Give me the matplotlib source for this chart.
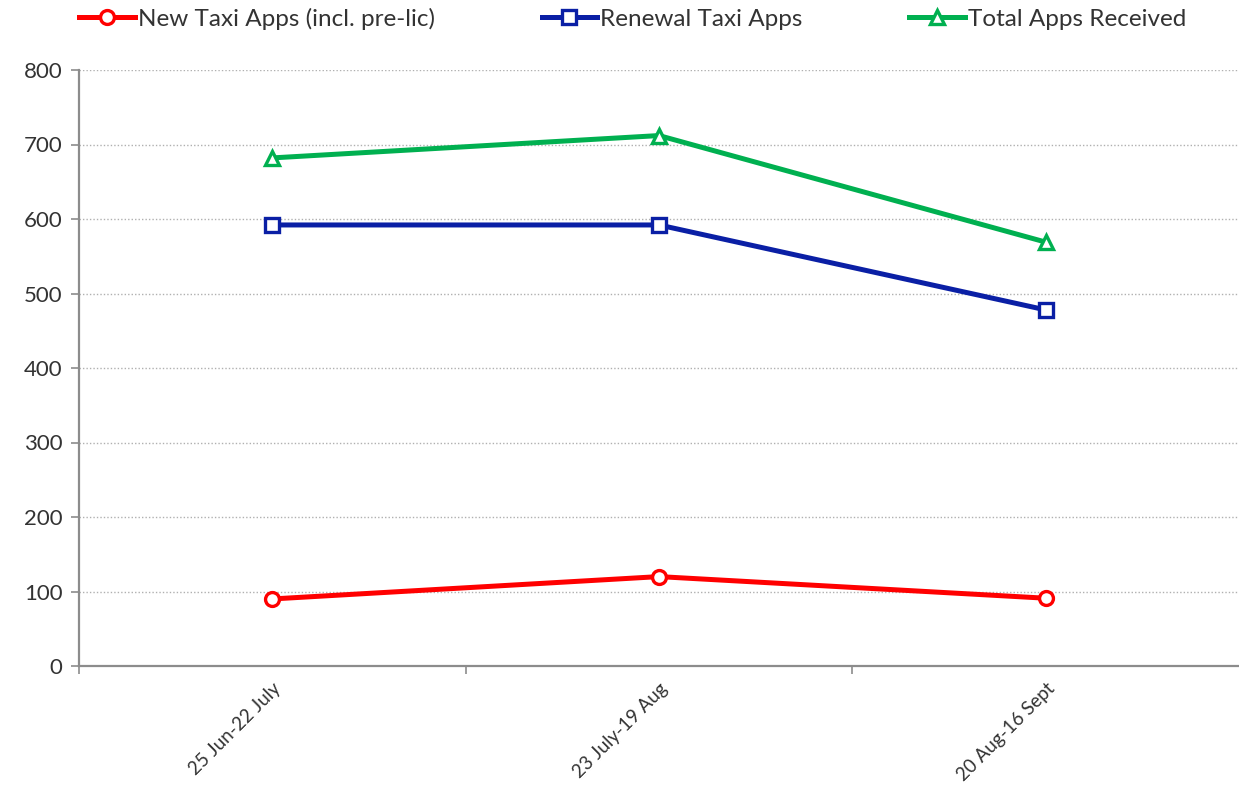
import matplotlib
matplotlib.use("Agg")
import matplotlib.pyplot as plt

categories = ["25 Jun-22 July", "23 July-19 Aug", "20 Aug-16 Sept"]
new_apps = [90, 120, 91]
renewal_apps = [592, 592, 478]
total_apps = [682, 712, 569]
y_ticks = [0, 100, 200, 300, 400, 500, 600, 700, 800]

plt.rcParams['font.family'] = ['Lato', 'DejaVu Sans']

fig = plt.figure(figsize=(12.39, 7.88), dpi=100)
ax = fig.add_axes([79/1239, 1 - 666/788, 1160/1239, (666 - 70)/788])

x = list(range(len(categories)))
series = [
    ("New Taxi Apps (incl. pre-lic)", new_apps, "#FF0000", "o"),
    ("Renewal Taxi Apps", renewal_apps, "#0A1FA5", "s"),
    ("Total Apps Received", total_apps, "#00B050", "^"),
]
for label, vals, col, mk in series:
    ax.plot(x, vals, color=col, lw=3.6, marker=mk, markersize=10,
            markerfacecolor="white", markeredgecolor=col, markeredgewidth=2.4,
            label=label, zorder=3, clip_on=False)

ax.set_xlim(-0.5, 2.5)
ax.set_ylim(0, 800)
ax.set_yticks(y_ticks)
ax.set_xticks([-0.5, 0.5, 1.5], minor=False)
ax.set_xticklabels([])
ax.set_xticks(x, minor=True)
ax.set_xticklabels(categories, minor=True, rotation=45, ha="right",
                   rotation_mode="anchor", fontsize=13.5, color="#333333")
ax.tick_params(axis="x", which="major", length=6, color="#8c8c8c", width=1.2)
ax.tick_params(axis="x", which="minor", length=0, pad=10)
ax.tick_params(axis="y", length=6, color="#8c8c8c", width=1.2, labelsize=16,
               labelcolor="#333333", pad=6)

ax.grid(axis="y", color="#b0b0b0", linestyle=(0, (1, 1.5)), lw=1.0, zorder=0)
for s in ["top", "right"]:
    ax.spines[s].set_visible(False)
for s in ["left", "bottom"]:
    ax.spines[s].set_color("#8c8c8c")
    ax.spines[s].set_linewidth(1.6)

leg = fig.legend(loc="upper center", bbox_to_anchor=(0.5105, 1.018), ncol=3,
                 frameon=False, fontsize=17.5, handlelength=2.3, handletextpad=0.1,
                 columnspacing=4.4, labelcolor="#333333")

fig.savefig("out.png", dpi=100)
